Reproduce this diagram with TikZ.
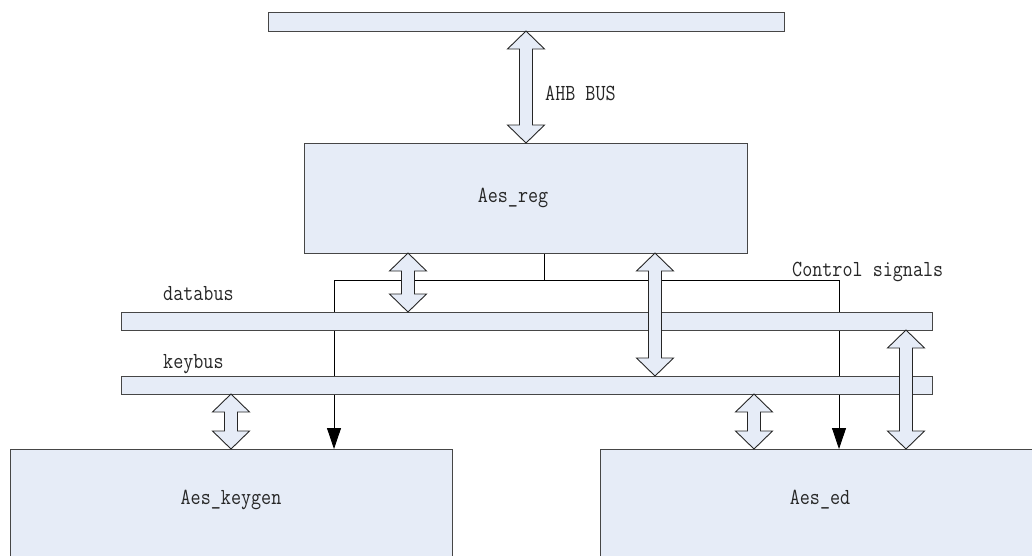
\documentclass[tikz,border=0pt]{standalone}
\usepackage{fontspec}
\usepackage{graphicx}
\usetikzlibrary{calc,arrows.meta}
\pgfdeclarelayer{wires}
\pgfsetlayers{wires,main}

\definecolor{blockfill}{RGB}{230,236,247}
\definecolor{edge}{RGB}{70,70,70}

% narrow serif typewriter face for all labels
\newcommand\narrowtext[1]{\scalebox{0.85}[1]{#1}}

\tikzset{
  blockbox/.style={draw=edge, fill=blockfill, line width=1pt, rectangle,
    outer sep=0pt, inner sep=0pt},
  lbl/.style={font=\ttfamily\fontsize{23}{25}\selectfont, text=black!85, inner sep=0pt},
  wire/.style={draw=black, line width=0.8pt},
  sigtip/.style={-{Triangle[length=21pt,width=14pt]}},
  dblarrow/.style={draw=black!85, fill=blockfill, line width=0.9pt, line join=miter},
}

% double-headed block arrow at horizontal position #1 (px) between anchors #2 and #3
\newcommand\busarrow[3]{%
  \draw[dblarrow] let \p1=(#2), \p2=(#3) in
    (#1pt,\y1) -- ++(18.5pt,-18pt) -- ++(-12pt,0pt) -- (#1pt+6.5pt,\y2+18pt)
    -- ++(12pt,0pt) -- (#1pt,\y2) -- ++(-18.5pt,18pt) -- ++(12pt,0pt)
    -- (#1pt-6.5pt,\y1-18pt) -- ++(-12pt,0pt) -- cycle;}

\begin{document}
\begin{tikzpicture}[x=1pt,y=-1pt]
\useasboundingbox (0,0) rectangle (1032,555);
\clip (0,0) rectangle (1032,555);

% blocks and buses
\node[blockbox, minimum width=516, minimum height=19] (host) at (526,21.5) {};
\node[blockbox, minimum width=443, minimum height=110] (reg) at (525.5,198) {};
\node[blockbox, minimum width=811, minimum height=18] (databus) at (526.5,321) {};
\node[blockbox, minimum width=811, minimum height=18] (keybus) at (526.5,385) {};
\node[blockbox, minimum width=442, minimum height=151] (keygen) at (231,524.5) {};
\node[blockbox, minimum width=500, minimum height=151] (ed) at (850,524.5) {};

% labels
\node[lbl] (regtxt) at (513,198) {\narrowtext{Aes\_reg}};
\node[lbl] (keygentxt) at (231,500) {\narrowtext{Aes\_keygen}};
\node[lbl] (edtxt) at (820,500) {\narrowtext{Aes\_ed}};
\node[lbl, anchor=west] (ahbtxt) at (545,93) {\narrowtext{AHB BUS}};
\node[lbl, anchor=base west] (datatxt) at (163,300) {\narrowtext{databus}};
\node[lbl, anchor=base west] (keytxt) at (163,368) {\narrowtext{keybus}};
\node[lbl, anchor=base west] (ctltxt) at (792,276) {\narrowtext{Control signals}};

% control signal wiring, running under the buses
\coordinate (ctl) at (544,280);
\coordinate (ctlL) at (334,280);
\coordinate (ctlR) at (839,280);
\begin{pgfonlayer}{wires}
  \draw[wire] (reg.south -| ctl) -- (ctl);
  \draw[wire] (ctlL) -- (ctlR);
  \draw[wire, sigtip] (ctlL) -- (ctlL |- keygen.north);
  \draw[wire, sigtip] (ctlR) -- (ctlR |- ed.north);
\end{pgfonlayer}

% bus transfers
\busarrow{526}{host.south}{reg.north}
\busarrow{408}{reg.south}{databus.north}
\busarrow{655}{reg.south}{keybus.north}
\busarrow{231}{keybus.south}{keygen.north}
\busarrow{754}{keybus.south}{ed.north}
\busarrow{906}{databus.south}{ed.north}
\end{tikzpicture}
\end{document}
